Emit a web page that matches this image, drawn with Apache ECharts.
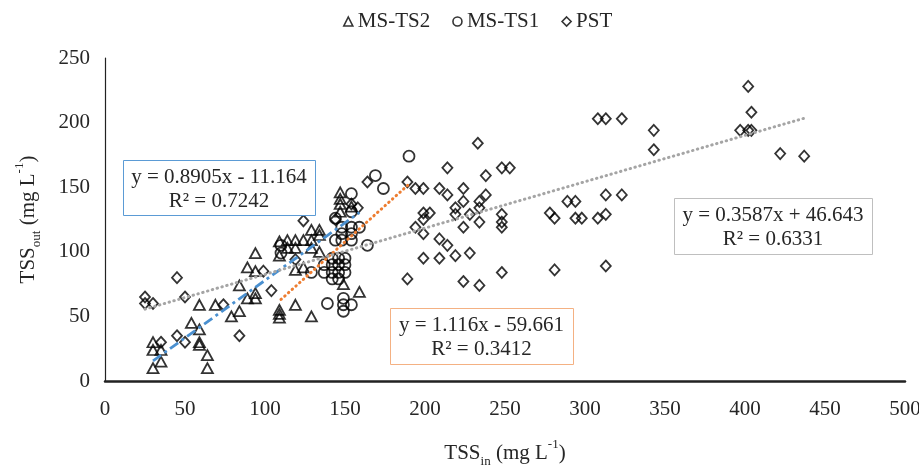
<!DOCTYPE html>
<html>
<head>
<meta charset="utf-8">
<script src="https://cdn.jsdelivr.net/npm/echarts@6/dist/echarts.min.js"></script>
<style>html,body{margin:0;padding:0;background:#fff}#c{width:919px;height:471px}</style>
</head>
<body>
<div id="c"></div>
<script>
// ---- data ----
const xTicks = [0, 50, 100, 150, 200, 250, 300, 350, 400, 450, 500];
const yTicks = [0, 50, 100, 150, 200, 250];

const seriesNames = ["MS-TS2", "MS-TS1", "PST"];

const msTs2 = [
  [30,30],[30,24],[35,24],[35,15],[30,10],
  [54,45],[59,40],[59,30],[59,28],[64,20],[64,10],
  [59,59],[69,59],[79,50],[84,54],[89,64],[94,64],[94,68],[84,74],[89,88],[94,99],[94,85],
  [109,55],[109,52],[109,49],
  [114,109],[119,109],[114,103],[119,103],[109,97],[109,108],
  [124,134],[124,109],[129,109],[129,117],[134,117],[134,113],[129,103],[134,100],[124,88],[119,86],[119,59],[129,50],
  [147,146],[147,141],[147,137],[147,131],[154,135],[149,75],[159,69]
];

const msTs1 = [
  [110,105],[110,99],
  [169,159],[174,149],[190,174],
  [154,145],[154,131],[144,126],[148,119],[154,119],[159,119],[148,114],[154,114],[144,109],[148,109],[154,109],[164,105],
  [142,95],[146,95],[150,95],[137,90],[142,90],[146,90],[150,90],[137,84],[142,84],[146,84],[150,84],[142,79],[146,79],[129,84],
  [139,60],[149,64],[149,59],[154,59],[149,54]
];

const pst = [
  [25,65],[25,60],[30,60],[45,80],[50,65],[35,30],[45,35],[50,30],[74,59],[84,35],[99,85],[104,70],
  [124,124],[119,94],[144,125],[154,137],[158,134],[164,154],[189,154],[189,79],
  [194,149],[199,149],[209,149],[214,165],[214,144],[224,149],[233,184],
  [199,130],[203,130],[199,125],[194,119],[199,114],
  [219,134],[224,139],[219,129],[224,119],[209,110],[214,105],
  [199,95],[209,95],[219,97],[228,99],[224,77],[234,74],
  [238,159],[248,165],[253,165],[234,139],[238,144],[234,134],[228,129],[234,123],[248,129],[248,123],[248,119],[248,84],
  [278,130],[281,126],[281,86],[289,139],[294,139],[294,126],[298,126],[308,126],[313,129],[313,144],[323,144],
  [308,203],[313,203],[323,203],[313,89],
  [343,194],[343,179],
  [397,194],[402,194],[404,194],[402,228],[404,208],[422,176],[437,174]
];

// trendline coefficients (slope, intercept) and labels
const slopes = [0.8905, 1.116, 0.3587];
const intercepts = [-11.164, -59.661, 46.643];
const eqTexts = ["y = 0.8905x - 11.164", "y = 1.116x - 59.661", "y = 0.3587x + 46.643"];
const r2Texts = ["R\u00b2 = 0.7242", "R\u00b2 = 0.3412", "R\u00b2 = 0.6331"];

// ---- chart ----
const FONT = "'Liberation Serif', 'Times New Roman', serif";
const TXT = "#262626";
const dataSets = [msTs2, msTs1, pst];
const symbols = ["triangle", "circle", "diamond"];
const symSizes = [[11, 10], 11, [10, 11]];
const lineColors = ["#4a90d0", "#ed7d31", "#a5a5a5"];
const lineTypes = [[10, 4, 3, 4], [0.5, 4.5], [0.5, 4.5]];

function trend(i) {
  const xs = dataSets[i].map(p => p[0]);
  const x0 = Math.min(...xs), x1 = Math.max(...xs);
  return [[x0, slopes[i] * x0 + intercepts[i]], [x1, slopes[i] * x1 + intercepts[i]]];
}

const series = [];
dataSets.forEach((d, i) => {
  series.push({
    name: seriesNames[i], type: "scatter", data: d, symbol: symbols[i], symbolSize: symSizes[i],
    itemStyle: { color: "rgba(255,255,255,0)", borderColor: "#000", borderWidth: 1.8 },
    z: 2, silent: true
  });
});
dataSets.forEach((d, i) => {
  series.push({
    name: "trend" + i, type: "line", data: trend(i), showSymbol: false, symbol: "none",
    lineStyle: { color: lineColors[i], width: i === 0 ? 2.8 : 3, type: lineTypes[i], cap: i === 0 ? "butt" : "round" },
    z: 5, silent: true
  });
});

const rich = {
  a: { fontFamily: FONT, fontSize: 21, color: TXT, lineHeight: 30 },
  sub: { fontFamily: FONT, fontSize: 13, color: TXT, lineHeight: 14, verticalAlign: "bottom" },
  sup: { fontFamily: FONT, fontSize: 13, color: TXT, lineHeight: 14, verticalAlign: "top" }
};

function box(x, y, w, h, stroke, i) {
  return [
    { type: "rect", left: x, top: y, shape: { width: w, height: h }, style: { fill: "#fff", stroke: stroke, lineWidth: 1 }, z: 10 },
    { type: "text", left: x, top: y + 5, style: { text: eqTexts[i] + "\n" + r2Texts[i], width: w, align: "center", fontFamily: FONT, fontSize: 21, lineHeight: 24, fill: TXT, textAlign: "center" }, z: 11 }
  ];
}

const chart = echarts.init(document.getElementById("c"), null, { renderer: "canvas" });
chart.setOption({
  animation: false,
  backgroundColor: "#fff",
  grid: { left: 105, right: 14, top: 58, bottom: 90, containLabel: false, outerBoundsMode: "none" },
  legend: {
    data: seriesNames.map((n, i) => ({ name: n, icon: symbols[i] })),
    top: 6, left: 338, itemWidth: 9, itemHeight: 9, itemGap: 22,
    textStyle: { fontFamily: FONT, fontSize: 21, color: TXT, padding: [0, 0, 0, 0] },
    itemStyle: { color: "rgba(255,255,255,0)", borderColor: "#000", borderWidth: 1.6 }
  },
  xAxis: {
    type: "value", min: xTicks[0], max: xTicks[xTicks.length - 1], interval: xTicks[1] - xTicks[0],
    axisLine: { show: true, lineStyle: { color: "#222", width: 2.5 } },
    axisTick: { show: false }, splitLine: { show: false },
    axisLabel: { fontFamily: FONT, fontSize: 21, color: TXT, margin: 18 },
    name: "{a|TSS}{sub|in}{a| (mg L}{sup|-1}{a|)}", nameLocation: "middle", nameGap: 57,
    nameTextStyle: { rich: rich }
  },
  yAxis: {
    type: "value", min: yTicks[0], max: yTicks[yTicks.length - 1], interval: yTicks[1] - yTicks[0],
    axisLine: { show: true, lineStyle: { color: "#222", width: 1.2 } },
    axisTick: { show: false }, splitLine: { show: false },
    axisLabel: { fontFamily: FONT, fontSize: 21, color: TXT, margin: 15 },
    name: "{a|TSS}{sub|out}{a| (mg L}{sup|-1}{a|)}", nameLocation: "middle", nameGap: 62, nameRotate: 90,
    nameTextStyle: { rich: rich }
  },
  graphic: [].concat(
    box(123, 160, 192, 55, "#5b9bd5", 0),
    box(390, 308, 183, 56, "#f4b183", 1),
    box(674, 198, 198, 56, "#bfbfbf", 2)
  ),
  series: series
});
</script>
</body>
</html>
